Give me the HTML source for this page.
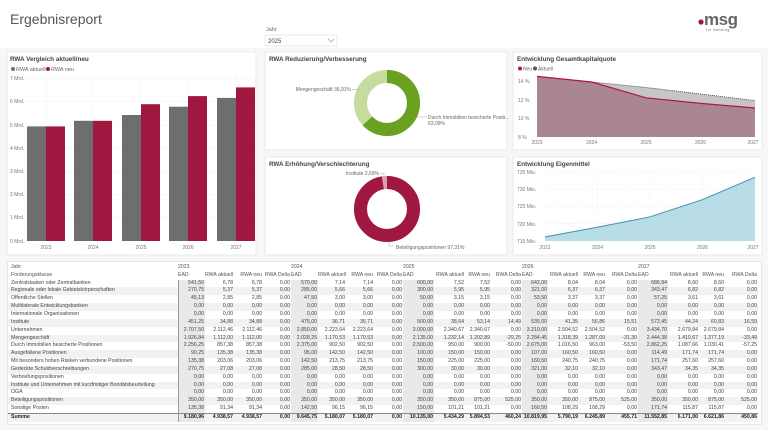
<!DOCTYPE html>
<html><head><meta charset="utf-8"><style>
body{margin:0;width:768px;height:430px;background:#f7f7f7;font-family:"Liberation Sans",sans-serif;overflow:hidden;position:relative}
svg{position:absolute;left:0;top:0}
#tbl{position:absolute;left:7px;top:261px;width:755px;height:164px;background:#fff;border:1px solid #e6e6e6;box-sizing:border-box}
table{position:absolute;left:0;top:2px;border-collapse:collapse;table-layout:fixed;font-size:5.2px;color:#444;width:750px}
td{height:7.85px;padding:0 1px 0 0;text-align:right;white-space:nowrap;overflow:hidden;line-height:7.85px}
td:first-child{text-align:left;padding-left:3px;border-right:1.5px solid #999}
tr.h td{height:7.8px;line-height:7.8px;color:#555}
tr.h td:first-child{border-right:none}
tbody tr:nth-child(even) td{background:#f2f2f2}
td.e{background:#e9e9e9!important}
tr.s td{font-weight:bold;color:#222;border-top:1px solid #888}
</style></head><body>
<svg width="768" height="430" viewBox="0 0 768 430" font-family="Liberation Sans, sans-serif">
<rect x="0" y="0" width="768" height="48" fill="#fff"/>
<text x="10" y="24" font-size="14" fill="#555">Ergebnisreport</text>
<text x="266" y="31" font-size="5.5" fill="#666">Jahr</text>
<rect x="265" y="35" width="72" height="11" fill="#fff" stroke="#ddd" stroke-width="0.6"/>
<text x="268" y="43" font-size="6" fill="#444">2025</text>
<path d="M328 39 l3 3 l3 -3" fill="none" stroke="#888" stroke-width="0.6"/>
<circle cx="701" cy="22" r="2.6" fill="#a0173f"/>
<text x="704" y="25" font-size="17" fill="#666" font-weight="bold" letter-spacing="-0.5">msg</text>
<text x="706" y="31" font-size="3.5" fill="#666" letter-spacing="0.6">for banking</text>

<rect x="7" y="52" width="249" height="203" fill="#fff" stroke="#e6e6e6" stroke-width="0.8"/>
<rect x="265" y="52" width="242" height="98" fill="#fff" stroke="#e6e6e6" stroke-width="0.8"/>
<rect x="265" y="157" width="242" height="98" fill="#fff" stroke="#e6e6e6" stroke-width="0.8"/>
<rect x="513" y="52" width="249" height="98" fill="#fff" stroke="#e6e6e6" stroke-width="0.8"/>
<rect x="513" y="157" width="249" height="98" fill="#fff" stroke="#e6e6e6" stroke-width="0.8"/>

<text x="10" y="61" font-size="6.3" font-weight="bold" fill="#444">RWA Vergleich aktuell/neu</text>
<circle cx="13" cy="69" r="2" fill="#6e6e6e"/><text x="16" y="71" font-size="5.5" fill="#666">RWA aktuell</text>
<circle cx="48" cy="69" r="2" fill="#a0173f"/><text x="51" y="71" font-size="5.5" fill="#666">RWA neu</text>
<g stroke="#ddd" stroke-width="0.5" stroke-dasharray="1,1.5">
<line x1="25" x2="256" y1="78.6" y2="78.6"/><line x1="25" x2="256" y1="101.8" y2="101.8"/><line x1="25" x2="256" y1="125" y2="125"/><line x1="25" x2="256" y1="148.2" y2="148.2"/><line x1="25" x2="256" y1="171.4" y2="171.4"/><line x1="25" x2="256" y1="194.6" y2="194.6"/><line x1="25" x2="256" y1="217.8" y2="217.8"/>
<line x1="46" x2="46" y1="76" y2="241"/><line x1="93" x2="93" y1="76" y2="241"/><line x1="141" x2="141" y1="76" y2="241"/><line x1="188" x2="188" y1="76" y2="241"/><line x1="236" x2="236" y1="76" y2="241"/>
</g>
<g font-size="5" fill="#777">
<text x="10" y="80">7 Mrd.</text><text x="10" y="103">6 Mrd.</text><text x="10" y="127">5 Mrd.</text><text x="10" y="150">4 Mrd.</text><text x="10" y="173">3 Mrd.</text><text x="10" y="196">2 Mrd.</text><text x="10" y="219">1 Mrd.</text><text x="10" y="243">0 Mrd.</text>
</g>
<g fill="#6e6e6e">
<rect x="27" y="126.4" width="19" height="114.6"/><rect x="74" y="120.8" width="19" height="120.2"/><rect x="122" y="115" width="19" height="126"/><rect x="169" y="106.7" width="19" height="134.3"/><rect x="217" y="97.9" width="19" height="143.1"/>
</g>
<g fill="#a0173f">
<rect x="46" y="126.4" width="19" height="114.6"/><rect x="93" y="120.8" width="19" height="120.2"/><rect x="141" y="104.2" width="19" height="136.8"/><rect x="188" y="96.1" width="19" height="144.9"/><rect x="236" y="87.4" width="19" height="153.6"/>
</g>
<g font-size="5" fill="#777" text-anchor="middle">
<text x="46" y="249">2023</text><text x="93" y="249">2024</text><text x="141" y="249">2025</text><text x="188" y="249">2026</text><text x="236" y="249">2027</text>
</g>

<text x="269" y="61" font-size="6.3" font-weight="bold" fill="#444">RWA Reduzierung/Verbesserung</text>
<circle cx="387" cy="103" r="26.5" fill="none" stroke="#c5dba0" stroke-width="13"/>
<circle cx="387" cy="103" r="26.5" fill="none" stroke="#6aa121" stroke-width="13" stroke-dasharray="105.05 200" transform="rotate(-90 387 103)"/>
<text x="351" y="91" font-size="5" fill="#666" text-anchor="end">Mengengeschäft 36,91%</text>
<line x1="352" y1="89.5" x2="359" y2="89.5" stroke="#aaa" stroke-width="0.5"/>
<line x1="417" y1="117" x2="427" y2="117" stroke="#aaa" stroke-width="0.5"/>
<text x="428" y="119" font-size="5" fill="#666">Durch Immobilien besicherte Positi...</text>
<text x="428" y="125" font-size="5" fill="#666">63,09%</text>

<text x="269" y="166" font-size="6.3" font-weight="bold" fill="#444">RWA Erhöhung/Verschlechterung</text>
<circle cx="387" cy="209" r="26.5" fill="none" stroke="#d9a0b0" stroke-width="13"/>
<circle cx="387" cy="209" r="26.5" fill="none" stroke="#a0173f" stroke-width="13" stroke-dasharray="162 200" transform="rotate(-90 387 209)"/>
<text x="379" y="175" font-size="5" fill="#666" text-anchor="end">Institute 2,69%</text>
<path d="M380 173.5 h4 v4" fill="none" stroke="#aaa" stroke-width="0.5"/>
<path d="M389 242 v4 h5" fill="none" stroke="#aaa" stroke-width="0.5"/>
<text x="396" y="249" font-size="5" fill="#666">Beteiligungspositionen 97,31%</text>

<text x="517" y="61" font-size="6.3" font-weight="bold" fill="#444">Entwicklung Gesamtkapitalquote</text>
<circle cx="520" cy="68.5" r="2" fill="#b0164a"/><text x="523" y="70.5" font-size="5" fill="#666">Neu</text>
<circle cx="535" cy="68.5" r="2" fill="#555"/><text x="538" y="70.5" font-size="5" fill="#666">Aktuell</text>
<g font-size="5" fill="#777">
<text x="518" y="83">14 %</text><text x="518" y="102">12 %</text><text x="518" y="120">10 %</text><text x="518" y="139">8 %</text>
</g>
<path d="M537 76.4 L591.5 82 L646 87.5 L700.5 94 L755 100.6 L755 137 L537 137Z" fill="#c6c6c6"/>
<path d="M537 76.4 L591.5 82 L646 97.8 L700.5 103.4 L755 108 L755 137 L537 137Z" fill="#a98690"/>
<path d="M537 76.4 L591.5 82 L646 87.5 L700.5 94 L755 100.6" fill="none" stroke="#444" stroke-width="0.9" stroke-dasharray="1,1"/>
<path d="M537 76.4 L591.5 82 L646 97.8 L700.5 103.4 L755 108" fill="none" stroke="#b0164a" stroke-width="1.2"/>
<g font-size="5" fill="#777" text-anchor="middle">
<text x="537" y="144">2023</text><text x="591.5" y="144">2024</text><text x="646" y="144">2025</text><text x="700.5" y="144">2026</text><text x="753" y="144">2027</text>
</g>

<text x="517" y="166" font-size="6.3" font-weight="bold" fill="#444">Entwicklung Eigenmittel</text>
<g stroke="#e2e2e2" stroke-width="0.5" stroke-dasharray="1,1.5">
<line x1="540" x2="758" y1="172" y2="172"/><line x1="540" x2="758" y1="189.2" y2="189.2"/><line x1="540" x2="758" y1="206.5" y2="206.5"/><line x1="540" x2="758" y1="223.7" y2="223.7"/>
<line x1="597.5" x2="597.5" y1="172" y2="241"/><line x1="650" x2="650" y1="172" y2="241"/><line x1="702.5" x2="702.5" y1="172" y2="241"/>
</g>
<g font-size="5" fill="#777">
<text x="517" y="174">735 Mio.</text><text x="517" y="191">730 Mio.</text><text x="517" y="208">725 Mio.</text><text x="517" y="226">720 Mio.</text><text x="517" y="243">715 Mio.</text>
</g>
<path d="M545 236.9 L597.5 227.2 L650 216.9 L702.5 199.6 L755 177.2 L755 241 L545 241Z" fill="#b9dde6"/>
<path d="M545 236.9 L597.5 227.2 L650 216.9 L702.5 199.6 L755 177.2" fill="none" stroke="#4a9bb8" stroke-width="1.1"/>
<g font-size="5" fill="#777" text-anchor="middle">
<text x="545" y="249">2023</text><text x="597.5" y="249">2024</text><text x="650" y="249">2025</text><text x="702.5" y="249">2026</text><text x="753" y="249">2027</text>
</g>
</svg>

<div id="tbl"><table>
<colgroup><col style="width:170px">
<col style="width:27px"><col style="width:29px"><col style="width:29px"><col style="width:28px">
<col style="width:27px"><col style="width:28px"><col style="width:28px"><col style="width:29px">
<col style="width:31px"><col style="width:31px"><col style="width:26px"><col style="width:31px">
<col style="width:26px"><col style="width:31px"><col style="width:27px"><col style="width:32px">
<col style="width:30px"><col style="width:31px"><col style="width:26px"><col style="width:33px">
</colgroup>
<thead>
<tr class="h"><td>Jahr</td><td style="text-align:left">2023</td><td></td><td></td><td></td><td style="text-align:left">2024</td><td></td><td></td><td></td><td style="text-align:left">2025</td><td></td><td></td><td></td><td style="text-align:left">2026</td><td></td><td></td><td></td><td style="text-align:left">2027</td><td></td><td></td><td></td></tr>
<tr class="h"><td>Forderungsklasse</td><td style="text-align:left">EAD</td><td>RWA aktuell</td><td>RWA neu</td><td>RWA Delta</td><td style="text-align:left">EAD</td><td>RWA aktuell</td><td>RWA neu</td><td>RWA Delta</td><td style="text-align:left">EAD</td><td>RWA aktuell</td><td>RWA neu</td><td>RWA Delta</td><td style="text-align:left">EAD</td><td>RWA aktuell</td><td>RWA neu</td><td>RWA Delta</td><td style="text-align:left">EAD</td><td>RWA aktuell</td><td>RWA neu</td><td>RWA Delta</td></tr>
</thead>
<tbody>
<tr><td>Zentralstaaten oder Zentralbanken</td><td class="e">541,50</td><td>6,78</td><td>6,78</td><td>0,00</td><td class="e">570,00</td><td>7,14</td><td>7,14</td><td>0,00</td><td class="e">600,00</td><td>7,52</td><td>7,52</td><td>0,00</td><td class="e">642,00</td><td>8,04</td><td>8,04</td><td>0,00</td><td class="e">686,94</td><td>8,60</td><td>8,60</td><td>0,00</td></tr>
<tr><td>Regionale oder lokale Gebietskörperschaften</td><td class="e">270,75</td><td>5,37</td><td>5,37</td><td>0,00</td><td class="e">285,00</td><td>5,66</td><td>5,66</td><td>0,00</td><td class="e">300,00</td><td>5,95</td><td>5,95</td><td>0,00</td><td class="e">321,00</td><td>6,37</td><td>6,37</td><td>0,00</td><td class="e">343,47</td><td>6,82</td><td>6,82</td><td>0,00</td></tr>
<tr><td>Öffentliche Stellen</td><td class="e">45,13</td><td>2,85</td><td>2,85</td><td>0,00</td><td class="e">47,50</td><td>3,00</td><td>3,00</td><td>0,00</td><td class="e">50,00</td><td>3,15</td><td>3,15</td><td>0,00</td><td class="e">53,50</td><td>3,37</td><td>3,37</td><td>0,00</td><td class="e">57,25</td><td>3,61</td><td>3,61</td><td>0,00</td></tr>
<tr><td>Multilaterale Entwicklungsbanken</td><td class="e">0,00</td><td>0,00</td><td>0,00</td><td>0,00</td><td class="e">0,00</td><td>0,00</td><td>0,00</td><td>0,00</td><td class="e">0,00</td><td>0,00</td><td>0,00</td><td>0,00</td><td class="e">0,00</td><td>0,00</td><td>0,00</td><td>0,00</td><td class="e">0,00</td><td>0,00</td><td>0,00</td><td>0,00</td></tr>
<tr><td>Internationale Organisationen</td><td class="e">0,00</td><td>0,00</td><td>0,00</td><td>0,00</td><td class="e">0,00</td><td>0,00</td><td>0,00</td><td>0,00</td><td class="e">0,00</td><td>0,00</td><td>0,00</td><td>0,00</td><td class="e">0,00</td><td>0,00</td><td>0,00</td><td>0,00</td><td class="e">0,00</td><td>0,00</td><td>0,00</td><td>0,00</td></tr>
<tr><td>Institute</td><td class="e">451,25</td><td>34,88</td><td>34,88</td><td>0,00</td><td class="e">475,00</td><td>36,71</td><td>36,71</td><td>0,00</td><td class="e">500,00</td><td>38,64</td><td>53,14</td><td>14,49</td><td class="e">535,00</td><td>41,35</td><td>56,86</td><td>15,51</td><td class="e">572,45</td><td>44,24</td><td>60,83</td><td>16,59</td></tr>
<tr><td>Unternehmen</td><td class="e">2.707,50</td><td>2.112,46</td><td>2.112,46</td><td>0,00</td><td class="e">2.850,00</td><td>2.223,64</td><td>2.223,64</td><td>0,00</td><td class="e">3.000,00</td><td>2.340,67</td><td>2.340,67</td><td>0,00</td><td class="e">3.210,00</td><td>2.504,52</td><td>2.504,52</td><td>0,00</td><td class="e">3.434,70</td><td>2.679,84</td><td>2.679,84</td><td>0,00</td></tr>
<tr><td>Mengengeschäft</td><td class="e">1.926,84</td><td>1.112,00</td><td>1.112,00</td><td>0,00</td><td class="e">2.028,25</td><td>1.170,53</td><td>1.170,53</td><td>0,00</td><td class="e">2.135,00</td><td>1.232,14</td><td>1.202,89</td><td>-29,25</td><td class="e">2.284,45</td><td>1.318,39</td><td>1.287,09</td><td>-31,30</td><td class="e">2.444,38</td><td>1.410,67</td><td>1.377,19</td><td>-33,49</td></tr>
<tr><td>Durch Immobilien besicherte Positionen</td><td class="e">2.256,25</td><td>857,38</td><td>857,38</td><td>0,00</td><td class="e">2.375,00</td><td>902,50</td><td>902,50</td><td>0,00</td><td class="e">2.500,00</td><td>950,00</td><td>900,00</td><td>-50,00</td><td class="e">2.675,00</td><td>1.016,50</td><td>963,00</td><td>-53,50</td><td class="e">2.862,25</td><td>1.087,66</td><td>1.030,41</td><td>-57,25</td></tr>
<tr><td>Ausgefallene Positionen</td><td class="e">90,25</td><td>135,38</td><td>135,38</td><td>0,00</td><td class="e">95,00</td><td>142,50</td><td>142,50</td><td>0,00</td><td class="e">100,00</td><td>150,00</td><td>150,00</td><td>0,00</td><td class="e">107,00</td><td>160,50</td><td>160,50</td><td>0,00</td><td class="e">114,49</td><td>171,74</td><td>171,74</td><td>0,00</td></tr>
<tr><td>Mit besonders hohen Risiken verbundene Positionen</td><td class="e">135,38</td><td>203,06</td><td>203,06</td><td>0,00</td><td class="e">142,50</td><td>213,75</td><td>213,75</td><td>0,00</td><td class="e">150,00</td><td>225,00</td><td>225,00</td><td>0,00</td><td class="e">160,50</td><td>240,75</td><td>240,75</td><td>0,00</td><td class="e">171,74</td><td>257,60</td><td>257,60</td><td>0,00</td></tr>
<tr><td>Gedeckte Schuldverschreibungen</td><td class="e">270,75</td><td>27,08</td><td>27,08</td><td>0,00</td><td class="e">285,00</td><td>28,50</td><td>28,50</td><td>0,00</td><td class="e">300,00</td><td>30,00</td><td>30,00</td><td>0,00</td><td class="e">321,00</td><td>32,10</td><td>32,10</td><td>0,00</td><td class="e">343,47</td><td>34,35</td><td>34,35</td><td>0,00</td></tr>
<tr><td>Verbriefungspositionen</td><td class="e">0,00</td><td>0,00</td><td>0,00</td><td>0,00</td><td class="e">0,00</td><td>0,00</td><td>0,00</td><td>0,00</td><td class="e">0,00</td><td>0,00</td><td>0,00</td><td>0,00</td><td class="e">0,00</td><td>0,00</td><td>0,00</td><td>0,00</td><td class="e">0,00</td><td>0,00</td><td>0,00</td><td>0,00</td></tr>
<tr><td>Institute und Unternehmen mit kurzfristiger Bonitätsbeurteilung</td><td class="e">0,00</td><td>0,00</td><td>0,00</td><td>0,00</td><td class="e">0,00</td><td>0,00</td><td>0,00</td><td>0,00</td><td class="e">0,00</td><td>0,00</td><td>0,00</td><td>0,00</td><td class="e">0,00</td><td>0,00</td><td>0,00</td><td>0,00</td><td class="e">0,00</td><td>0,00</td><td>0,00</td><td>0,00</td></tr>
<tr><td>OGA</td><td class="e">0,00</td><td>0,00</td><td>0,00</td><td>0,00</td><td class="e">0,00</td><td>0,00</td><td>0,00</td><td>0,00</td><td class="e">0,00</td><td>0,00</td><td>0,00</td><td>0,00</td><td class="e">0,00</td><td>0,00</td><td>0,00</td><td>0,00</td><td class="e">0,00</td><td>0,00</td><td>0,00</td><td>0,00</td></tr>
<tr><td>Beteiligungspositionen</td><td class="e">350,00</td><td>350,00</td><td>350,00</td><td>0,00</td><td class="e">350,00</td><td>350,00</td><td>350,00</td><td>0,00</td><td class="e">350,00</td><td>350,00</td><td>875,00</td><td>525,00</td><td class="e">350,00</td><td>350,00</td><td>875,00</td><td>525,00</td><td class="e">350,00</td><td>350,00</td><td>875,00</td><td>525,00</td></tr>
<tr><td>Sonstige Posten</td><td class="e">135,38</td><td>91,34</td><td>91,34</td><td>0,00</td><td class="e">142,50</td><td>96,15</td><td>96,15</td><td>0,00</td><td class="e">150,00</td><td>101,21</td><td>101,21</td><td>0,00</td><td class="e">160,50</td><td>108,29</td><td>108,29</td><td>0,00</td><td class="e">171,74</td><td>115,87</td><td>115,87</td><td>0,00</td></tr>
<tr class="s"><td>Summe</td><td class="e">9.180,96</td><td>4.938,57</td><td>4.938,57</td><td>0,00</td><td class="e">9.645,75</td><td>5.180,07</td><td>5.180,07</td><td>0,00</td><td class="e">10.135,00</td><td>5.434,29</td><td>5.894,53</td><td>460,24</td><td class="e">10.819,95</td><td>5.790,19</td><td>6.245,89</td><td>455,71</td><td class="e">11.552,85</td><td>6.171,00</td><td>6.621,86</td><td>450,86</td></tr>
</tbody></table></div>
</body></html>
